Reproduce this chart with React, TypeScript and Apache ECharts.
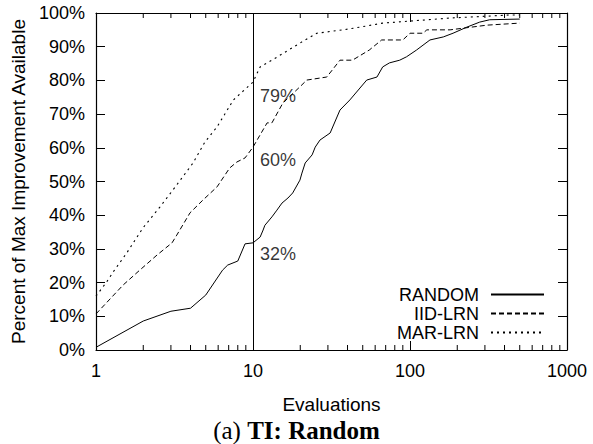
import React, { useEffect, useRef } from "react";
import * as echarts from "echarts";

// ---- data ----
const randomX = [1, 2, 3, 4, 5, 6.4, 6.9, 8, 8.9, 10, 11.1, 11.6, 11.9, 13.2, 14.2, 15.3, 16.7, 17.9, 19.9, 20.5, 21.5, 23.8, 24.9, 26.7, 31, 35.8, 41.4, 53, 61.6, 67, 74, 86, 95, 110, 134, 163, 188, 230, 278, 322, 500];
const randomY = [0.8, 8.6, 11.5, 12.4, 16.3, 23.7, 25.2, 26.4, 31.5, 31.8, 33.5, 35.6, 37, 39.5, 41.5, 43.6, 45.1, 46.6, 50.4, 52.5, 55.5, 57.9, 60.2, 62.3, 64.4, 71.2, 74.2, 80.1, 81, 84, 85.2, 86, 87, 89, 92, 92.9, 94, 95.8, 97.3, 98, 98.2];

const iidX = [1, 1.49, 1.9, 2.45, 3.05, 3.27, 3.97, 4.8, 5.9, 7.1, 7.9, 8.9, 10, 12.3, 13.2, 15.5, 19.8, 22, 29.5, 35.8, 43, 55, 66, 90, 100, 121, 128, 180, 310, 500];
const iidY = [10.7, 19.3, 23.7, 28.2, 31.8, 34.1, 40.7, 44.5, 48.4, 54, 55.8, 57, 60.2, 67.4, 67.4, 73.3, 78, 80.1, 81, 86, 86, 89, 92, 92, 94, 94, 95, 95, 96.4, 97];

const marX = [1, 1.17, 1.28, 1.57, 1.99, 2.55, 3.27, 4.15, 4.94, 5.9, 7.5, 10, 11.1, 14.2, 19.8, 25.5, 37.5, 48, 67, 180, 430, 500];
const marY = [16, 20.2, 23, 28.8, 36.2, 42.4, 49, 55.5, 61.7, 66.2, 74.2, 79.5, 84, 86.9, 91, 94, 95, 95.8, 97, 98.5, 99.4, 99.4];

const seriesNames = ["RANDOM", "IID-LRN", "MAR-LRN"];
const markerX = 10;
const markerValues = [79, 60, 32];
const yTicks = { min: 0, max: 100, interval: 10 };
const xRange = { min: 1, max: 1000 };
const minorTickValues = [2, 3, 4, 5, 6, 7, 8, 9, 20, 30, 40, 50, 60, 70, 80, 90, 200, 300, 400, 500, 600, 700, 800, 900];
const xAxisTitle = "Evaluations";
const yAxisTitle = "Percent of Max Improvement Available";
const captionPrefix = "(a) ";
const captionBold = "TI: Random";

const SANS = "'Liberation Sans', Arial, Helvetica, sans-serif";
const SERIF = "'Liberation Serif', 'Times New Roman', serif";

const zip = (xs: number[], ys: number[]) => xs.map((x, i) => [x, ys[i]]);

export default function App() {
  const ref = useRef<HTMLDivElement>(null);

  useEffect(() => {
    if (!ref.current) return;
    const chart = echarts.init(ref.current, null, { renderer: "svg" });

    const axisLine = { show: true, onZero: false, lineStyle: { color: "#000", width: 1.2 } };
    const tick = { show: true, inside: true, length: 9, lineStyle: { color: "#000", width: 1 } };

    // minor ticks of the log axis: one item per tick, side 0 = bottom, side 1 = top
    const minorTickData: number[][] = [];
    minorTickValues.forEach((v) => {
      minorTickData.push([v, yTicks.min, 0]);
      minorTickData.push([v, yTicks.max, 1]);
    });

    const option: any = {
      animation: false,
      backgroundColor: "#fff",
      grid: { left: 96, right: 26, top: 13, bottom: 94, containLabel: false },
      legend: {
        data: seriesNames,
        orient: "vertical",
        right: 48,
        top: 285,
        padding: 0,
        align: "right",
        itemWidth: 53,
        itemHeight: 14,
        itemGap: 0,
        itemStyle: { opacity: 0 },
        textStyle: { fontSize: 18, color: "#000", fontFamily: SANS, lineHeight: 19, padding: [0, 7, 0, 0] },
        selectedMode: false,
      },
      xAxis: [
        {
          type: "log",
          logBase: 10,
          min: xRange.min,
          max: xRange.max,
          position: "bottom",
          axisLine,
          axisTick: tick,
          axisLabel: {
            color: "#000",
            fontSize: 18,
            fontFamily: SANS,
            margin: 12,
            formatter: (v: number) => String(Math.round(v)),
          },
          splitLine: { show: false },
          name: xAxisTitle,
          nameLocation: "middle",
          nameGap: 45,
          nameTextStyle: { color: "#000", fontSize: 19, fontFamily: SANS },
        },
        {
          type: "log",
          logBase: 10,
          min: xRange.min,
          max: xRange.max,
          position: "top",
          axisLine,
          axisTick: tick,
          axisLabel: { show: false },
          splitLine: { show: false },
        },
      ],
      yAxis: [
        {
          type: "value",
          min: yTicks.min,
          max: yTicks.max,
          interval: yTicks.interval,
          position: "left",
          axisLine,
          axisTick: tick,
          axisLabel: {
            color: "#000",
            fontSize: 18,
            fontFamily: SANS,
            margin: 11,
            formatter: "{value}%",
          },
          splitLine: { show: false },
          name: yAxisTitle,
          nameLocation: "middle",
          nameGap: 68,
          nameTextStyle: { color: "#000", fontSize: 19, fontFamily: SANS },
        },
        {
          type: "value",
          min: yTicks.min,
          max: yTicks.max,
          interval: yTicks.interval,
          position: "right",
          axisLine,
          axisTick: tick,
          axisLabel: { show: false },
          splitLine: { show: false },
        },
      ],
      series: [
        {
          name: seriesNames[0],
          type: "line",
          data: zip(randomX, randomY),
          symbol: "none",
          lineStyle: { color: "#000", width: 1, type: "solid" },
          itemStyle: { color: "#000" },
          markLine: {
            silent: true,
            symbol: ["none", "none"],
            label: { show: false },
            lineStyle: { color: "#000", width: 1, type: "solid" },
            data: [{ xAxis: markerX }],
          },
          z: 3,
        },
        {
          name: seriesNames[1],
          type: "line",
          data: zip(iidX, iidY),
          symbol: "none",
          lineStyle: { color: "#000", width: 1, type: [5, 3] },
          itemStyle: { color: "#000" },
          z: 3,
        },
        {
          name: seriesNames[2],
          type: "line",
          data: zip(marX, marY),
          symbol: "none",
          lineStyle: { color: "#000", width: 1.1, type: [2, 4] },
          itemStyle: { color: "#000" },
          z: 3,
        },
        {
          name: "annotations",
          type: "scatter",
          data: markerValues.map((v) => [markerX, v]),
          symbolSize: 0,
          silent: true,
          label: {
            show: true,
            position: "right",
            distance: 7,
            offset: [0, 12],
            color: "#000",
            fontSize: 18,
            fontFamily: SANS,
            formatter: (p: any) => `${p.value[1]}%`,
          },
          z: 5,
        },
        {
          name: "minorTicks",
          type: "custom",
          silent: true,
          clip: false,
          encode: { x: 0, y: 1 },
          data: minorTickData,
          renderItem: (params: any, api: any) => {
            const v = api.value(0);
            const side = api.value(2);
            const p = api.coord([v, side === 0 ? yTicks.min : yTicks.max]);
            const len = 5;
            return {
              type: "line",
              shape: { x1: p[0], y1: p[1], x2: p[0], y2: side === 0 ? p[1] - len : p[1] + len },
              style: { stroke: "#000", lineWidth: 1 },
            };
          },
          z: 10,
        },
      ],
      graphic: [
        {
          type: "text",
          left: "center",
          top: 418,
          style: {
            text: `{n|${captionPrefix}}{b|${captionBold}}`,
            rich: {
              n: { fontFamily: SERIF, fontSize: 25, fontWeight: "normal", fill: "#000" },
              b: { fontFamily: SERIF, fontSize: 25, fontWeight: "bold", fill: "#000" },
            },
          },
        },
      ],
    };

    chart.setOption(option);
    return () => chart.dispose();
  }, []);

  return (
    <div
      ref={ref}
      style={{ position: "fixed", left: 0, top: 0, width: 593, height: 444, background: "#fff" }}
    />
  );
}
